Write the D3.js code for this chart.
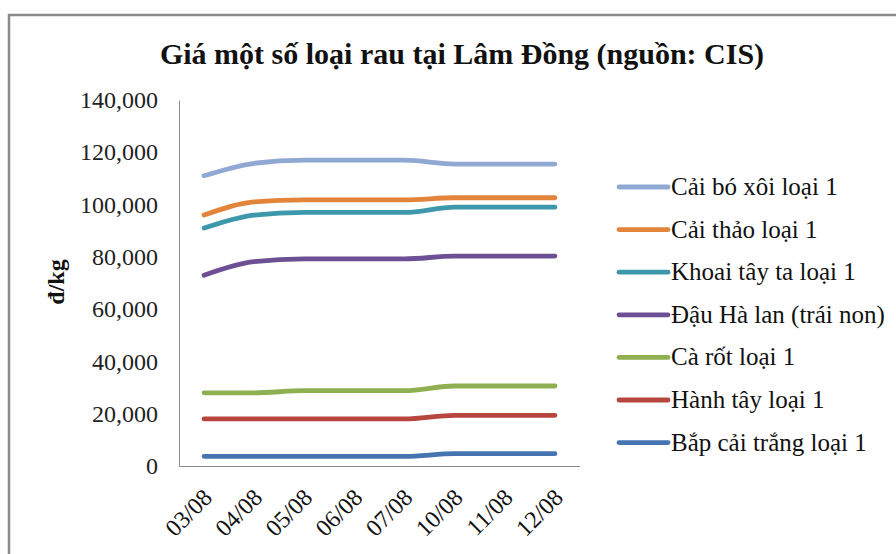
<!DOCTYPE html>
<html><head><meta charset="utf-8">
<script src="https://cdn.jsdelivr.net/npm/d3@7"></script>
<style>body{margin:0;background:#fff}svg{display:block}text{font-family:"Liberation Serif","Times New Roman",serif}</style>
</head><body><svg id="c" width="896" height="554"></svg>
<script>
const categories = ["03/08","04/08","05/08","06/08","07/08","10/08","11/08","12/08"];
const seriesNames = ["Cải bó xôi loại 1","Cải thảo loại 1","Khoai tây ta loại 1","Đậu Hà lan (trái non)","Cà rốt loại 1","Hành tây loại 1","Bắp cải trắng loại 1"];
const caiBoXoi   = [111000,115800,117000,117000,117000,115500,115500,115500];
const caiThao    = [96000,101000,101800,101800,101800,102600,102600,102600];
const khoaiTay   = [91000,96000,97000,97000,97000,99000,99000,99000];
const dauHaLan   = [73000,78200,79200,79200,79200,80300,80300,80300];
const caRot      = [28000,28000,28800,28800,28800,30600,30600,30600];
const hanhTay    = [18000,18000,18000,18000,18000,19400,19400,19400];
const bapCai     = [3700,3700,3700,3700,3700,4700,4700,4700];
const yTicks = [0,20000,40000,60000,80000,100000,120000,140000];
const colors = ["#90A9D3","#E2843A","#3C98AA","#6C5093","#8FB050","#B8463F","#4674B0"];
const seriesValues = [caiBoXoi,caiThao,khoaiTay,dauHaLan,caRot,hanhTay,bapCai];

const svg = d3.select("#c");
svg.append("path").attr("d","M9,554 V15 H896").attr("fill","none").attr("stroke","#8c8c8c").attr("stroke-width",2.5);

const L=179,R=580,T=100,B=466;
const x = d3.scalePoint().domain(categories).range([L,R]).padding(0.5);
const y = d3.scaleLinear().domain([0,140000]).range([B,T]);

svg.append("text").attr("x",462).attr("y",64).attr("text-anchor","middle")
  .attr("font-size",30).attr("font-weight","bold").attr("fill","#111").text("Giá một số loại rau tại Lâm Đồng (nguồn: CIS)");

const fmt = d3.format(",");
const yAxis = svg.append("g").attr("transform",`translate(${L},0)`)
  .call(d3.axisLeft(y).tickValues(yTicks).tickFormat(fmt).tickSize(0).tickPadding(21));
yAxis.select(".domain").attr("stroke","#8c8c8c");
yAxis.selectAll("text").attr("font-size",24).attr("font-family","Liberation Serif").attr("fill","#222");

const xAxis = svg.append("g").attr("transform",`translate(0,${B})`)
  .call(d3.axisBottom(x).tickSize(0).tickPadding(0));
xAxis.select(".domain").attr("stroke","#8c8c8c").attr("d",`M${L},0.5H${R}`);
xAxis.selectAll("text").attr("font-size",24).attr("font-family","Liberation Serif").attr("fill","#111")
  .attr("text-anchor","end").attr("dy",0).attr("y",0)
  .attr("transform","translate(9,33) rotate(-45)");

svg.append("text").attr("transform","translate(64,282) rotate(-90)").attr("text-anchor","middle")
  .attr("font-size",24).attr("font-weight","bold").attr("fill","#111").text("đ/kg");

const line = d3.line().x((d,i)=>x(categories[i])).y(d=>y(d)).curve(d3.curveMonotoneX);
seriesValues.forEach((vals,k)=>{
  svg.append("path").attr("d",line(vals)).attr("fill","none").attr("stroke",colors[k])
    .attr("stroke-width",4.8).attr("stroke-linecap","round").attr("stroke-linejoin","round");
});

const lg = svg.append("g");
seriesNames.forEach((n,k)=>{
  const cy = 187 + k*42.6;
  lg.append("line").attr("x1",619).attr("x2",668).attr("y1",cy).attr("y2",cy)
    .attr("stroke",colors[k]).attr("stroke-width",4.8).attr("stroke-linecap","round");
  lg.append("text").attr("x",671).attr("y",cy+8).attr("font-size",25).attr("fill","#111").text(n);
});
</script></body></html>
